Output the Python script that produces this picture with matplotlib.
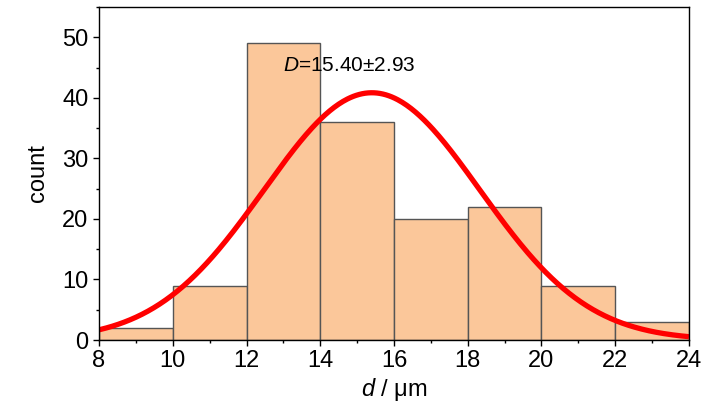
import numpy as np
import matplotlib
matplotlib.use("Agg")
import matplotlib.pyplot as plt
from matplotlib.ticker import MultipleLocator

plt.rcParams['font.family'] = ['Liberation Sans', 'DejaVu Sans']
plt.rcParams['mathtext.fontset'] = 'custom'
plt.rcParams['mathtext.rm'] = 'Liberation Sans'
plt.rcParams['mathtext.it'] = 'Liberation Sans:italic'

# histogram data
bin_edges = [8, 10, 12, 14, 16, 18, 20, 22, 24]
counts = [2, 9, 49, 36, 20, 22, 9, 3]

# fitted gaussian parameters
mean_d = 15.40
sd_d = 2.93
total = sum(counts)

fig = plt.figure(figsize=(7.28, 4.07), dpi=100)
ax = fig.add_axes([0.136, 0.1646, 0.8104, 0.818])

widths = np.diff(bin_edges)
ax.bar(bin_edges[:-1], counts, width=widths, align='edge',
       color='#FBC79A', edgecolor='#555555', linewidth=1.0)

x = np.linspace(8, 24, 400)
bw = widths[0]
y = total * bw / (sd_d * np.sqrt(2 * np.pi)) * np.exp(-0.5 * ((x - mean_d) / sd_d) ** 2)
ax.plot(x, y, color='#FF0000', linewidth=3.8, solid_capstyle='butt')

ax.set_xlim(8, 24)
ax.set_ylim(0, 55)
ax.xaxis.set_major_locator(MultipleLocator(2))
ax.xaxis.set_minor_locator(MultipleLocator(1))
ax.yaxis.set_major_locator(MultipleLocator(10))
ax.yaxis.set_minor_locator(MultipleLocator(5))
ax.tick_params(which='both', direction='out', labelsize=17, top=False, right=False)
ax.tick_params(which='major', length=4.5, width=1.0)
ax.tick_params(which='minor', length=2.5, width=1.0)
ax.tick_params(axis='x', pad=3)
ax.tick_params(axis='y', pad=3)
for s in ax.spines.values():
    s.set_linewidth(1.0)

ax.text(13.0, 45.4, r'$D$=15.40$\pm$2.93', fontsize=15, va='center', ha='left')
ax.set_xlabel(r'$d$ / $\mathregular{\mu}$m', fontsize=17)
ax.set_ylabel('count', fontsize=17)
ax.xaxis.set_label_coords(0.5, -0.148)
ax.xaxis.label.set_va('center')
ax.yaxis.set_label_coords(-0.103, 0.5)
ax.yaxis.label.set_va('center')

fig.savefig('out.png', dpi=100)
